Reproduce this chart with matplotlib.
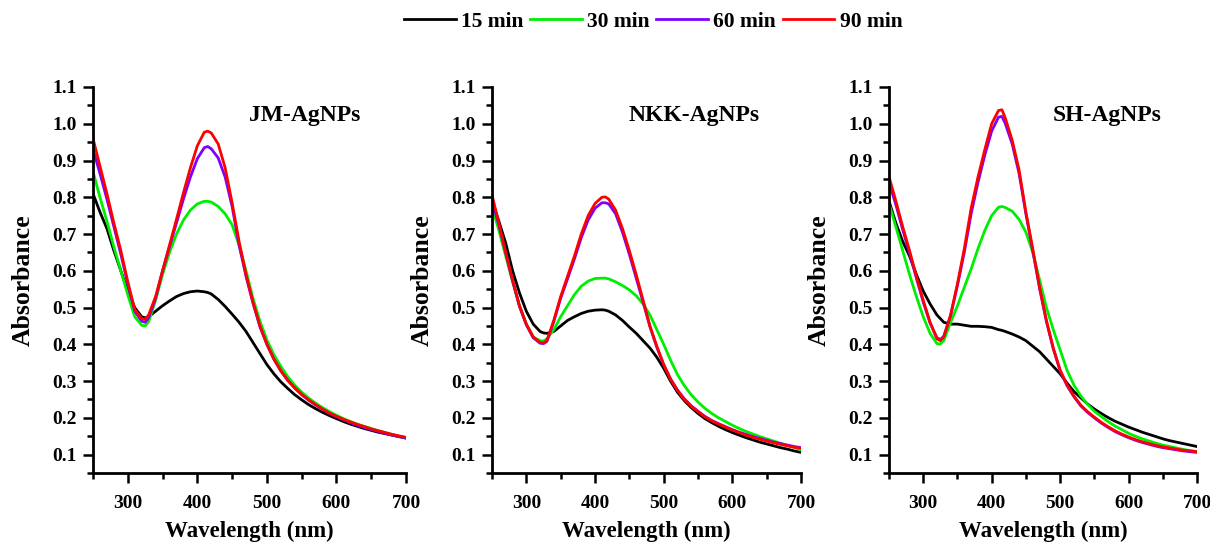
import numpy as np
import matplotlib
matplotlib.use("Agg")
import matplotlib.pyplot as plt
from matplotlib.ticker import MultipleLocator

plt.rcParams['font.family'] = ['Liberation Serif', 'DejaVu Serif']
plt.rcParams['font.weight'] = 'bold'

# wavelength grid (nm)
wl = [250, 260, 270, 280, 290, 300, 310, 320, 325, 330, 340, 350, 360, 370, 380,
      390, 400, 410, 415, 420, 430, 440, 450, 460, 470, 480, 490, 500, 510, 520,
      530, 540, 550, 560, 570, 580, 590, 600, 610, 620, 630, 640, 650, 660, 670,
      680, 690, 700]

times = ['15 min', '30 min', '60 min', '90 min']
colors = ['#000000', '#00ee00', '#8000ff', '#ff0000']
panels = ['JM-AgNPs', 'NKK-AgNPs', 'SH-AgNPs']

# JM-AgNPs
jm_15 = [.81, .76, .715, .655, .6, .545, .5, .475, .472, .475, .49, .505, .518, .53, .538,
         .543, .545, .543, .541, .537, .522, .503, .482, .46, .435, .405, .375, .345, .32, .298,
         .28, .263, .249, .236, .225, .215, .206, .198, .19, .183, .177, .171, .166, .161, .157,
         .153, .149, .145]
jm_30 = [.87, .8, .735, .665, .6, .535, .475, .452, .45, .462, .52, .59, .65, .7, .738,
         .765, .782, .789, .789, .787, .775, .755, .725, .67, .6, .525, .463, .412, .372, .34,
         .312, .289, .27, .254, .24, .228, .217, .207, .198, .19, .183, .177, .171, .165, .16,
         .155, .15, .146]
jm_60 = [.93, .865, .795, .72, .645, .565, .49, .463, .46, .472, .525, .6, .665, .73, .795,
         .855, .905, .935, .938, .932, .907, .855, .775, .67, .585, .512, .448, .4, .36, .328,
         .302, .281, .263, .248, .235, .223, .212, .203, .195, .187, .18, .174, .168, .163, .158,
         .153, .149, .145]
jm_90 = [.96, .885, .81, .73, .655, .57, .495, .47, .468, .48, .53, .6, .67, .74, .812,
         .88, .94, .977, .98, .975, .945, .88, .785, .68, .59, .515, .45, .4, .36, .328,
         .302, .282, .264, .249, .236, .224, .213, .204, .196, .189, .182, .176, .17, .165, .16,
         .155, .151, .147]

# NKK-AgNPs
nkk_15 = [.79, .735, .675, .6, .54, .49, .455, .435, .431, .43, .435, .45, .465, .475, .484,
          .49, .493, .494, .493, .49, .48, .465, .447, .43, .41, .39, .365, .335, .3, .27,
          .247, .228, .212, .198, .187, .177, .168, .16, .153, .146, .14, .134, .129, .124, .119,
          .115, .11, .106]
nkk_30 = [.774, .71, .64, .57, .505, .455, .42, .41, .409, .415, .44, .475, .505, .535, .558,
          .572, .579, .58, .58, .578, .57, .56, .548, .532, .51, .48, .44, .4, .357, .318,
          .288, .263, .243, .226, .212, .2, .19, .18, .171, .163, .156, .149, .143, .137, .131,
          .125, .12, .113]
nkk_60 = [.79, .725, .648, .573, .503, .453, .418, .403, .402, .408, .462, .525, .578, .632, .69,
          .738, .77, .785, .785, .782, .755, .705, .645, .58, .515, .448, .392, .345, .306, .276,
          .252, .233, .218, .204, .193, .184, .176, .168, .161, .155, .149, .144, .139, .134, .13,
          .126, .122, .119]
nkk_90 = [.806, .73, .65, .575, .505, .455, .42, .405, .404, .41, .465, .53, .585, .64, .7,
          .75, .783, .8, .801, .795, .765, .715, .655, .59, .52, .45, .395, .345, .305, .275,
          .25, .232, .217, .203, .192, .183, .175, .167, .16, .153, .147, .142, .137, .132, .128,
          .124, .12, .117]

# SH-AgNPs
sh_15 = [.79, .73, .68, .64, .59, .545, .51, .48, .47, .46, .455, .455, .452, .449, .449,
         .448, .446, .44, .438, .435, .428, .42, .41, .395, .38, .36, .34, .32, .295, .272,
         .255, .238, .224, .212, .201, .191, .183, .175, .168, .161, .155, .149, .143, .138, .134,
         .13, .126, .122]
sh_30 = [.783, .72, .655, .59, .53, .475, .43, .402, .401, .41, .46, .505, .555, .605, .66,
         .71, .75, .773, .775, .772, .762, .74, .705, .65, .575, .5, .44, .385, .33, .29,
         .26, .237, .218, .204, .19, .178, .168, .158, .15, .143, .137, .131, .126, .122, .118,
         .114, .111, .108]
sh_60 = [.84, .78, .712, .648, .58, .515, .458, .418, .413, .422, .478, .56, .65, .755, .84,
         .915, .98, 1.018, 1.02, 1.0, .945, .865, .755, .655, .552, .462, .388, .328, .288, .258,
         .233, .215, .2, .186, .174, .163, .154, .146, .139, .133, .128, .123, .119, .116, .113,
         .11, .108, .106]
sh_90 = [.856, .79, .72, .655, .585, .52, .46, .415, .41, .42, .48, .565, .66, .77, .855,
         .93, 1.0, 1.036, 1.038, 1.015, .955, .875, .76, .66, .555, .465, .39, .33, .29, .26,
         .235, .217, .202, .188, .176, .165, .156, .148, .141, .135, .13, .125, .121, .118, .115,
         .112, .11, .108]

data = [[jm_15, jm_30, jm_60, jm_90],
        [nkk_15, nkk_30, nkk_60, nkk_90],
        [sh_15, sh_30, sh_60, sh_90]]

fig = plt.figure(figsize=(12.1, 5.42), dpi=100)
lefts = [93, 492, 889]
widths = [313, 309, 308]
title_x = [0.677, 0.654, 0.708]
handles = []
for k in range(3):
    ax = fig.add_axes([lefts[k] / 1210, 69 / 542, widths[k] / 1210, 386 / 542])
    for s in range(4):
        ln, = ax.plot(wl, data[k][s], color=colors[s], lw=2.0, label=times[s])
        if k == 0:
            handles.append(ln)
    ax.set_xlim(250, 700)
    ax.set_ylim(0.05, 1.1)
    ax.xaxis.set_minor_locator(MultipleLocator(50))
    ax.yaxis.set_minor_locator(MultipleLocator(0.05))
    ax.set_yticks([0.1, 0.2, 0.3, 0.4, 0.5, 0.6, 0.7, 0.8, 0.9, 1.0, 1.1])
    ax.set_xticks([300, 400, 500, 600, 700])
    for sp in ['top', 'right']:
        ax.spines[sp].set_visible(False)
    for sp in ['left', 'bottom']:
        ax.spines[sp].set_linewidth(2.0)
    ax.tick_params(which='major', direction='out', length=7, width=1.8, labelsize=14)
    ax.tick_params(axis='x', which='major', pad=9)
    ax.tick_params(axis='y', which='major', pad=5)
    ax.tick_params(which='minor', direction='out', length=4, width=1.8)
    ax.set_xlabel('Wavelength (nm)', fontsize=16.5, fontweight='bold', labelpad=6)
    ax.set_ylabel('Absorbance', fontsize=18.5, fontweight='bold')
    ax.yaxis.set_label_coords(-58 / widths[k], 0.5)
    ax.text(title_x[k], 0.927, panels[k], transform=ax.transAxes, ha='center', va='center',
            fontsize=17, fontweight='bold')

fig.legend(handles=handles, loc='center', bbox_to_anchor=(0.54, 0.96), ncol=4, frameon=False,
           fontsize=15.5, handlelength=2.4, handletextpad=0.25, columnspacing=0.3)

fig.savefig('out.png', dpi=100)
